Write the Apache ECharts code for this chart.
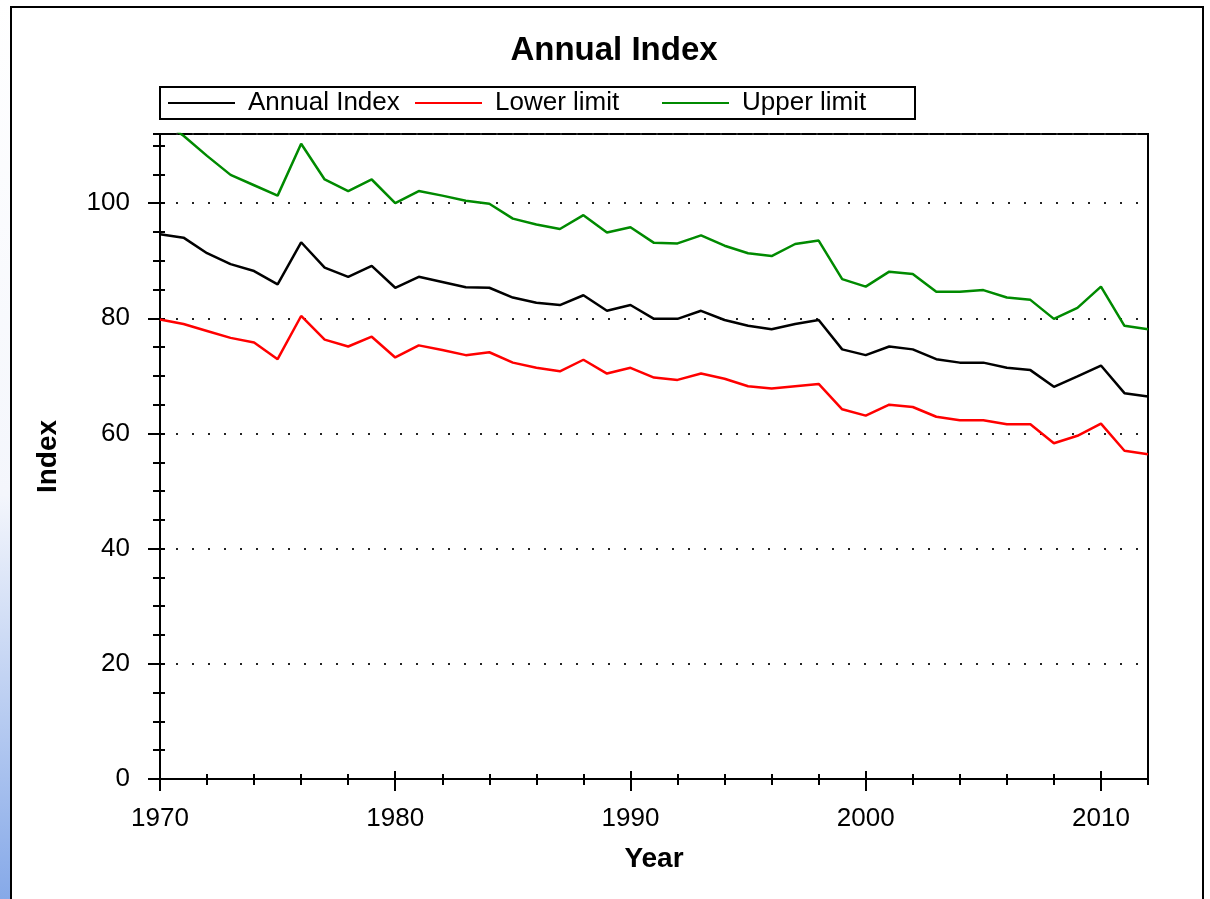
<!DOCTYPE html>
<html>
<head>
<meta charset="utf-8">
<title>Annual Index</title>
<script src="https://cdn.jsdelivr.net/npm/echarts@6/dist/echarts.min.js"></script>
<style>
  html, body { margin: 0; padding: 0; background: #fff; }
  #strip { position: absolute; left: 0; top: 0; width: 11px; height: 899px;
    background: linear-gradient(to bottom, #fff 0%, #f4f6fc 55%, #86a9e8 100%); }
  #frame { position: absolute; left: 10px; top: 6px; width: 1190px; height: 910px;
    border: 2px solid #000; background: #fff; }
  #chart { position: absolute; left: 0; top: 0; width: 1210px; height: 899px; }
</style>
</head>
<body>
<div id="strip"></div>
<div id="frame"></div>
<div id="chart"></div>
<script>
// years 1970..2012
var years = [];
for (var y = 1970; y <= 2012; y++) years.push(y);

var annualIndex = [94.6, 94.0, 91.3, 89.4, 88.2, 85.9, 93.2, 88.8, 87.2, 89.1,
  85.3, 87.2, 86.3, 85.4, 85.3, 83.6, 82.7, 82.3, 84.0, 81.3,
  82.3, 79.9, 79.9, 81.3, 79.7, 78.7, 78.1, 79.0, 79.7, 74.6,
  73.6, 75.1, 74.6, 72.9, 72.3, 72.3, 71.4, 71.0, 68.1, 69.9,
  71.8, 67.0, 66.4];
var lowerLimit = [79.8, 79.0, 77.8, 76.6, 75.8, 72.9, 80.4, 76.3, 75.1, 76.8,
  73.2, 75.3, 74.5, 73.6, 74.1, 72.3, 71.4, 70.8, 72.8, 70.4,
  71.4, 69.7, 69.3, 70.4, 69.5, 68.2, 67.8, 68.2, 68.6, 64.2,
  63.1, 65.0, 64.6, 62.9, 62.3, 62.3, 61.6, 61.6, 58.3, 59.6,
  61.7, 57.0, 56.4];
var upperLimit = [114.5, 111.7, 108.2, 104.9, 103.1, 101.3, 110.3, 104.1, 102.1, 104.1,
  100.0, 102.1, 101.3, 100.4, 99.9, 97.3, 96.3, 95.5, 97.9, 94.9,
  95.8, 93.1, 93.0, 94.4, 92.6, 91.3, 90.8, 92.9, 93.5, 86.8,
  85.5, 88.1, 87.7, 84.6, 84.6, 84.9, 83.6, 83.2, 79.9, 81.8,
  85.5, 78.7, 78.1];

function pairs(vals) {
  return years.map(function (yr, i) { return [yr, vals[i]]; });
}

var font = 'Liberation Sans, Arial, sans-serif';
var myChart = echarts.init(document.getElementById('chart'));

// extra axes only carry tick marks (crossing ticks like the original)
function tickAxis(base, interval, len, inside) {
  return Object.assign({}, base, {
    interval: interval,
    axisLine: { show: false },
    axisLabel: { show: false },
    splitLine: { show: false },
    axisTick: { show: true, inside: inside, length: len, lineStyle: { color: '#000', width: 2 } }
  });
}
var xBase = { type: 'value', min: 1970, max: 2012, position: 'bottom', offset: 0 };
var yBase = { type: 'value', min: 0, max: 112, position: 'left', offset: 0 };

var option = {
  animation: false,
  title: {
    text: 'Annual Index',
    left: 609,
    top: 29,
    textAlign: 'center',
    textStyle: { fontFamily: font, fontSize: 33, fontWeight: 'bold', color: '#000' }
  },
  legend: {
    left: 160,
    top: 87,
    orient: 'horizontal',
    icon: 'rect',
    padding: [3, 16, 3, 8],
    itemGap: 10,
    itemWidth: 67,
    itemHeight: 2,
    borderColor: '#000',
    borderWidth: 2,
    textStyle: { fontFamily: font, fontSize: 26, color: '#000', width: 157, lineHeight: 24, padding: [2, 0, 0, 8] },
    data: ['Annual Index', 'Lower limit', 'Upper limit']
  },
  grid: {
    left: 160, top: 134, width: 988, height: 645,
    show: true, borderColor: '#000', borderWidth: 2, backgroundColor: 'transparent'
  },
  xAxis: [
    Object.assign({}, xBase, {
      interval: 10,
      name: 'Year',
      nameLocation: 'middle',
      nameGap: 66,
      nameTextStyle: { fontFamily: font, fontSize: 28, fontWeight: 'bold', color: '#000' },
      axisLine: { show: true, lineStyle: { color: '#000', width: 2 } },
      axisTick: { show: true, length: 12, lineStyle: { color: '#000', width: 2 } },
      axisLabel: {
        fontFamily: font, fontSize: 26, color: '#000', margin: 27, showMaxLabel: false,
        formatter: function (v) { return String(v); }
      },
      splitLine: { show: false }
    }),
    tickAxis(xBase, 10, 8, true),
    tickAxis(xBase, 2, 6, false),
    tickAxis(xBase, 2, 5, true)
  ],
  yAxis: [
    Object.assign({}, yBase, {
      interval: 20,
      name: 'Index',
      nameLocation: 'middle',
      nameGap: 98,
      nameRotate: 90,
      nameTextStyle: { fontFamily: font, fontSize: 28, fontWeight: 'bold', color: '#000' },
      axisLine: { show: true, lineStyle: { color: '#000', width: 2 } },
      axisTick: { show: true, length: 12, lineStyle: { color: '#000', width: 2 } },
      axisLabel: { fontFamily: font, fontSize: 26, color: '#000', margin: 30, showMaxLabel: false, padding: [5, 0, 0, 0] },
      splitLine: { show: true, lineStyle: { color: '#222', width: 2, type: [2, 14] } }
    }),
    tickAxis(yBase, 5, 7, false),
    tickAxis(yBase, 5, 5, true)
  ],
  series: [
    {
      name: 'Annual Index', type: 'line', symbol: 'none', clip: true,
      xAxisIndex: 0, yAxisIndex: 0,
      itemStyle: { color: '#000' },
      lineStyle: { color: '#000', width: 2.5 },
      data: pairs(annualIndex)
    },
    {
      name: 'Lower limit', type: 'line', symbol: 'none', clip: true,
      xAxisIndex: 0, yAxisIndex: 0,
      itemStyle: { color: '#ff0000' },
      lineStyle: { color: '#ff0000', width: 2.5 },
      data: pairs(lowerLimit)
    },
    {
      name: 'Upper limit', type: 'line', symbol: 'none', clip: true,
      xAxisIndex: 0, yAxisIndex: 0,
      itemStyle: { color: '#008a00' },
      lineStyle: { color: '#008a00', width: 2.5 },
      data: pairs(upperLimit)
    }
  ]
};
myChart.setOption(option);
</script>
</body>
</html>
